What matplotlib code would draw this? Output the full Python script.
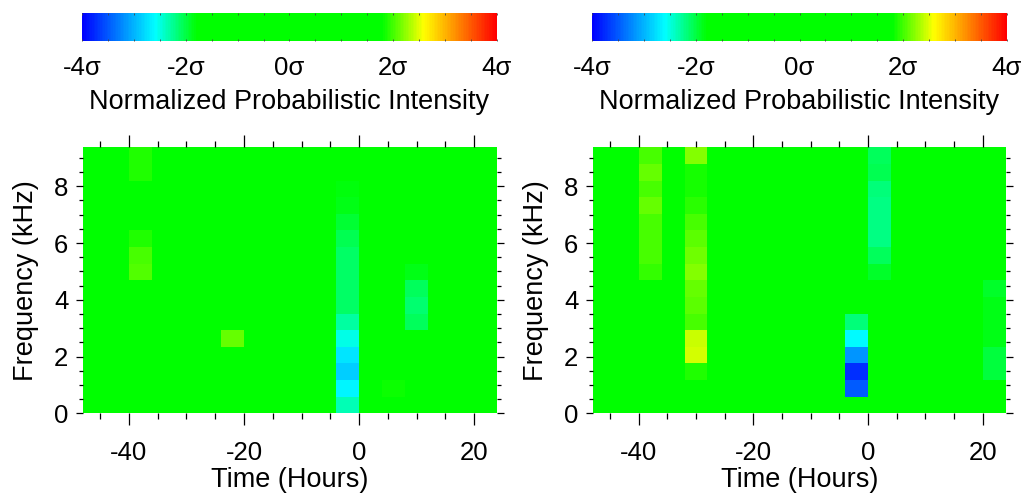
import numpy as np
import matplotlib.pyplot as plt
from matplotlib.colors import LinearSegmentedColormap, Normalize
from matplotlib.ticker import MultipleLocator
import matplotlib.cm as cm

plt.rcParams['font.family'] = ['Liberation Sans', 'DejaVu Sans']
plt.rcParams['axes.unicode_minus'] = False

# 4-hour time bins from -48 h to +24 h, 16 frequency bins up to 9.375 kHz
time_edges = np.arange(-48, 25, 4)
freq_edges = np.linspace(0, 9.375, 17)

# normalized intensity (sigma), rows listed from the top frequency bin down to 0 kHz
left_sigma = [
    [0, 0, 1.9,  0, 0, 0, 0,   0, 0, 0, 0, 0,     0, 0,    0,     0, 0, 0],
    [0, 0, 1.9,  0, 0, 0, 0,   0, 0, 0, 0, 0,     0, 0,    0,     0, 0, 0],
    [0, 0, 0,    0, 0, 0, 0,   0, 0, 0, 0, -1.82, 0, 0,    0,     0, 0, 0],
    [0, 0, 0,    0, 0, 0, 0,   0, 0, 0, 0, -1.87, 0, 0,    0,     0, 0, 0],
    [0, 0, 0,    0, 0, 0, 0,   0, 0, 0, 0, -1.95, 0, 0,    0,     0, 0, 0],
    [0, 0, 1.9,  0, 0, 0, 0,   0, 0, 0, 0, -2.05, 0, 0,    0,     0, 0, 0],
    [0, 0, 2.0,  0, 0, 0, 0,   0, 0, 0, 0, -2.1,  0, 0,    0,     0, 0, 0],
    [0, 0, 2.05, 0, 0, 0, 0,   0, 0, 0, 0, -2.12, 0, 0,    -1.85, 0, 0, 0],
    [0, 0, 0,    0, 0, 0, 0,   0, 0, 0, 0, -2.1,  0, 0,    -2.08, 0, 0, 0],
    [0, 0, 0,    0, 0, 0, 0,   0, 0, 0, 0, -2.12, 0, 0,    -2.15, 0, 0, 0],
    [0, 0, 0,    0, 0, 0, 0,   0, 0, 0, 0, -2.3,  0, 0,    -2.08, 0, 0, 0],
    [0, 0, 0,    0, 0, 0, 2.1, 0, 0, 0, 0, -2.52, 0, 0,    0,     0, 0, 0],
    [0, 0, 0,    0, 0, 0, 0,   0, 0, 0, 0, -2.74, 0, 0,    0,     0, 0, 0],
    [0, 0, 0,    0, 0, 0, 0,   0, 0, 0, 0, -2.87, 0, 0,    0,     0, 0, 0],
    [0, 0, 0,    0, 0, 0, 0,   0, 0, 0, 0, -2.63, 0, 1.83, 0,     0, 0, 0],
    [0, 0, 0,    0, 0, 0, 0,   0, 0, 0, 0, -2.36, 0, 0,    0,     0, 0, 0],
]

right_sigma = [
    [0, 0, 2.0,  0, 2.2,  0, 0, 0, 0, 0, 0, 0,     -2.08, 0, 0, 0, 0, 0],
    [0, 0, 2.1,  0, 1.87, 0, 0, 0, 0, 0, 0, 0,     -2.05, 0, 0, 0, 0, 0],
    [0, 0, 2.0,  0, 1.85, 0, 0, 0, 0, 0, 0, 0,     -2.18, 0, 0, 0, 0, 0],
    [0, 0, 2.1,  0, 1.93, 0, 0, 0, 0, 0, 0, 0,     -2.2,  0, 0, 0, 0, 0],
    [0, 0, 2.0,  0, 2.0,  0, 0, 0, 0, 0, 0, 0,     -2.2,  0, 0, 0, 0, 0],
    [0, 0, 2.0,  0, 2.08, 0, 0, 0, 0, 0, 0, 0,     -2.2,  0, 0, 0, 0, 0],
    [0, 0, 2.0,  0, 2.15, 0, 0, 0, 0, 0, 0, 0,     -2.08, 0, 0, 0, 0, 0],
    [0, 0, 1.95, 0, 2.2,  0, 0, 0, 0, 0, 0, 0,     -1.93, 0, 0, 0, 0, 0],
    [0, 0, 0,    0, 2.1,  0, 0, 0, 0, 0, 0, 0,     0, 0, 0, 0, 0, -1.93],
    [0, 0, 0,    0, 2.08, 0, 0, 0, 0, 0, 0, 0,     0, 0, 0, 0, 0, -1.85],
    [0, 0, 0,    0, 2.0,  0, 0, 0, 0, 0, 0, -2.18, 0, 0, 0, 0, 0, -1.85],
    [0, 0, 0,    0, 2.43, 0, 0, 0, 0, 0, 0, -2.6,  0, 0, 0, 0, 0, -1.85],
    [0, 0, 0,    0, 2.45, 0, 0, 0, 0, 0, 0, -3.18, 0, 0, 0, 0, 0, -1.98],
    [0, 0, 0,    0, 1.9,  0, 0, 0, 0, 0, 0, -3.73, 0, 0, 0, 0, 0, -2.0],
    [0, 0, 0,    0, 0,    0, 0, 0, 0, 0, 0, -3.5,  0, 0, 0, 0, 0, 0],
    [0, 0, 0,    0, 0,    0, 0, 0, 0, 0, 0, 0,     0, 0, 0, 0, 0, 0],
]

sigma_ticks = [-4, -2, 0, 2, 4]
sigma_labels = ['-4σ', '-2σ', '0σ', '2σ', '4σ']

cmap = LinearSegmentedColormap.from_list('prob', [
    (0.0, '#0000ff'), (0.175, '#00ffff'), (0.275, '#00ff00'),
    (0.725, '#00ff00'), (0.825, '#ffff00'), (1.0, '#ff0000')])
norm = Normalize(vmin=-4, vmax=4)

fig = plt.figure(figsize=(10.35, 4.93), dpi=100)

panels = [
    (left_sigma, [0.0799, 0.1617, 0.4006, 0.5396], [0.0795, 0.9168, 0.4004, 0.0562]),
    (right_sigma, [0.5727, 0.1617, 0.3990, 0.5396], [0.5720, 0.9168, 0.4010, 0.0562]),
]

for data, ax_pos, cb_pos in panels:
    ax = fig.add_axes(ax_pos)
    ax.pcolormesh(time_edges, freq_edges, np.flipud(np.array(data, dtype=float)),
                  cmap=cmap, norm=norm, shading='flat')
    ax.set_xlim(-48, 24)
    ax.set_ylim(0, 9.375)
    for s in ax.spines.values():
        s.set_visible(False)
    ax.xaxis.set_major_locator(MultipleLocator(20))
    ax.xaxis.set_minor_locator(MultipleLocator(5))
    ax.yaxis.set_major_locator(MultipleLocator(2))
    ax.yaxis.set_minor_locator(MultipleLocator(0.5))
    ax.tick_params(axis='x', which='major', direction='out', length=8.5, width=0.9,
                   top=True, bottom=True, labelsize=18.5, pad=11.5)
    ax.tick_params(axis='x', which='minor', direction='out', length=4.3, width=0.9,
                   top=True, bottom=True)
    ax.tick_params(axis='y', which='major', direction='out', length=4.8, width=0.9,
                   left=True, right=True, labelsize=18.5, pad=5.5)
    ax.tick_params(axis='y', which='minor', direction='out', length=2.7, width=0.9,
                   left=True, right=True)
    ax.set_xlabel('Time (Hours)', fontsize=19.5, labelpad=1.5)
    ax.set_ylabel('Frequency (kHz)', fontsize=19.5, labelpad=10.5)

    cax = fig.add_axes(cb_pos)
    cb = fig.colorbar(cm.ScalarMappable(norm=norm, cmap=cmap), cax=cax,
                      orientation='horizontal')
    cb.outline.set_visible(False)
    cb.set_ticks(sigma_ticks)
    cb.set_ticklabels(sigma_labels)
    cax.xaxis.set_minor_locator(MultipleLocator(0.5))
    cax.tick_params(axis='x', which='both', direction='in', length=1.5, width=0.6,
                    color='#444444', top=True, bottom=True, labelsize=18.5, pad=11)
    cb.set_label('Normalized Probabilistic Intensity', fontsize=19.5, labelpad=6)

fig.savefig('out.png', dpi=100)
